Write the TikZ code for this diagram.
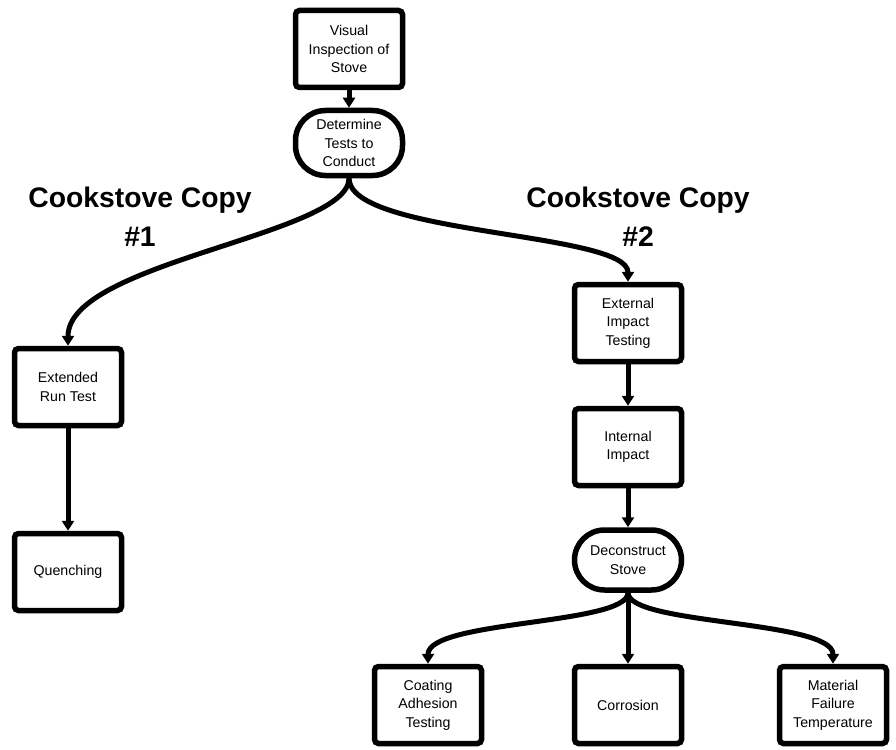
\documentclass[tikz,border=0pt]{standalone}
\usepackage{fontspec}
\setmainfont{Liberation Sans}
\usetikzlibrary{arrows.meta,positioning}
\tikzset{step node/.style={rectangle, draw, line width=5.5pt, rounded corners=4pt,
    minimum width=107pt, minimum height=77pt, align=center, inner sep=2pt,
    font=\fontsize{14.2}{18.5}\selectfont}}
\tikzset{pill node/.style={step node, rounded corners=30pt, minimum height=#1}}
\tikzset{copy title/.style={align=center, font=\fontsize{28.3}{39}\selectfont\bfseries}}
\tikzset{regular edge/.style={draw, line width=5pt,
    -{Triangle[length=10pt,width=12pt]}}}

\begin{document}
\begin{tikzpicture}[x=1pt, y=-1pt]
  \useasboundingbox (0,0) rectangle (896,749);

  \node [step node]      (visual)  at (349, 49) {Visual\\Inspection of\\Stove};
  \node [pill node=65pt] (tests)   at (349,143) {Determine\\Tests to\\Conduct};

  \node [copy title]     (copy1)   at (140,217) {Cookstove Copy\\\#1};
  \node [copy title]     (copy2)   at (638,217) {Cookstove Copy\\\#2};

  % copy 1
  \node [step node]      (extrun)  at ( 68,387) {Extended\\Run Test};
  \node [step node]      (quench)  at ( 68,572) {Quenching};

  % copy 2
  \node [step node]      (extimp)  at (628,323) {External\\Impact\\Testing};
  \node [step node]      (intimp)  at (628,447) {Internal\\Impact};
  \node [pill node=60pt] (decon)   at (628,560) {Deconstruct\\Stove};
  \node [step node]      (coating) at (428,705) {Coating\\Adhesion\\Testing};
  \node [step node]      (corros)  at (628,705) {Corrosion};
  \node [step node]      (matfail) at (833,705) {Material\\Failure\\Temperature};

  \draw [regular edge] (visual) -- (tests);
  \draw [regular edge] (tests.south) .. controls (349,235) and (68,262) .. (extrun.north);
  \draw [regular edge] (tests.south) .. controls (349,235) and (628,232) .. (extimp.north);
  \draw [regular edge] (extrun) -- (quench);
  \draw [regular edge] (extimp) -- (intimp);
  \draw [regular edge] (intimp) -- (decon);
  \draw [regular edge] (decon.south) .. controls (628,625) and (428,620) .. (coating.north);
  \draw [regular edge] (decon) -- (corros);
  \draw [regular edge] (decon.south) .. controls (628,625) and (833,620) .. (matfail.north);
\end{tikzpicture}
\end{document}
